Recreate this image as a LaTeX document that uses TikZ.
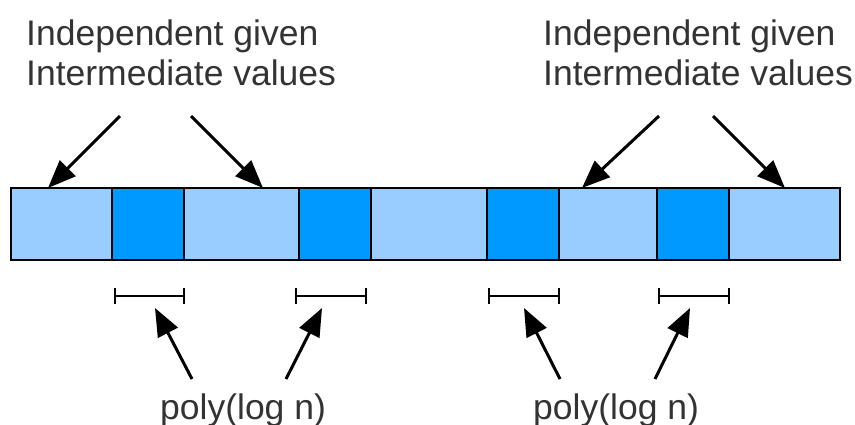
\documentclass[tikz,border=0pt]{standalone}
\usepackage{fontspec}
\setmainfont{Liberation Sans}
\usetikzlibrary{arrows.meta}
\definecolor{lightcell}{HTML}{99CCFF}
\definecolor{darkcell}{HTML}{0099FF}
\definecolor{txt}{HTML}{333333}
\begin{document}
\begin{tikzpicture}[x=1pt,y=-1pt,
  lbl/.style={anchor=base west,inner sep=0pt,text=txt,font=\fontsize{35.5}{40}\selectfont},
  light/.style={fill=lightcell,draw=black,line width=1.3pt},
  dark/.style={fill=darkcell,draw=black,line width=1.3pt},
  arr/.style={line width=3pt,-{Triangle[length=28pt,width=22pt]}},
  span/.style={line width=1.4pt,|-|,shorten <=0pt}]
\useasboundingbox (0,0) rectangle (855,424);
% cells
\draw[light] (11,188) rectangle (112,260);
\draw[dark]  (112,188) rectangle (184,260);
\draw[light] (184,188) rectangle (299,260);
\draw[dark]  (299,188) rectangle (371,260);
\draw[light] (371,188) rectangle (487,260);
\draw[dark]  (487,188) rectangle (559,260);
\draw[light] (559,188) rectangle (657,260);
\draw[dark]  (657,188) rectangle (729,260);
\draw[light] (729,188) rectangle (840,260);
% labels
\node[lbl] (l1a) at (26,45) {Independent given};
\node[lbl] (l1b) at (26,85) {Intermediate values};
\node[lbl] (l2a) at (543,45) {Independent given};
\node[lbl] (l2b) at (543,85) {Intermediate values};
\node[lbl] (p1) at (160,419) {poly(log n)};
\node[lbl] (p2) at (533,419) {poly(log n)};
% coordinates for arrows
\coordinate (a1s) at (120,116); \coordinate (a1e) at (48,188);
\coordinate (a2s) at (191,116); \coordinate (a2e) at (263,188);
\coordinate (a3s) at (659,116); \coordinate (a3e) at (582,188);
\coordinate (a4s) at (713,116); \coordinate (a4e) at (785,188);
\draw[arr] (a1s) -- (a1e);
\draw[arr] (a2s) -- (a2e);
\draw[arr] (a3s) -- (a3e);
\draw[arr] (a4s) -- (a4e);
% spans
\coordinate (s1a) at (115,296); \coordinate (s1b) at (184,296);
\coordinate (s2a) at (296,296); \coordinate (s2b) at (366,296);
\coordinate (s3a) at (489,296); \coordinate (s3b) at (559,296);
\coordinate (s4a) at (659,296); \coordinate (s4b) at (729,296);
\foreach \s in {1,2,3,4}{
  \draw[line width=1.4pt] (s\s a) -- (s\s b);
  \draw[line width=1.6pt] ([yshift=-8pt]s\s a) -- ([yshift=8pt]s\s a);
  \draw[line width=1.6pt] ([yshift=-8pt]s\s b) -- ([yshift=8pt]s\s b);
}
% bottom arrows
\coordinate (b1s) at (192,379); \coordinate (b1e) at (155,308);
\coordinate (b2s) at (286,379); \coordinate (b2e) at (322,308);
\coordinate (b3s) at (560,379); \coordinate (b3e) at (524,308);
\coordinate (b4s) at (655,379); \coordinate (b4e) at (690,308);
\draw[arr] (b1s) -- (b1e);
\draw[arr] (b2s) -- (b2e);
\draw[arr] (b3s) -- (b3e);
\draw[arr] (b4s) -- (b4e);
\end{tikzpicture}
\end{document}
